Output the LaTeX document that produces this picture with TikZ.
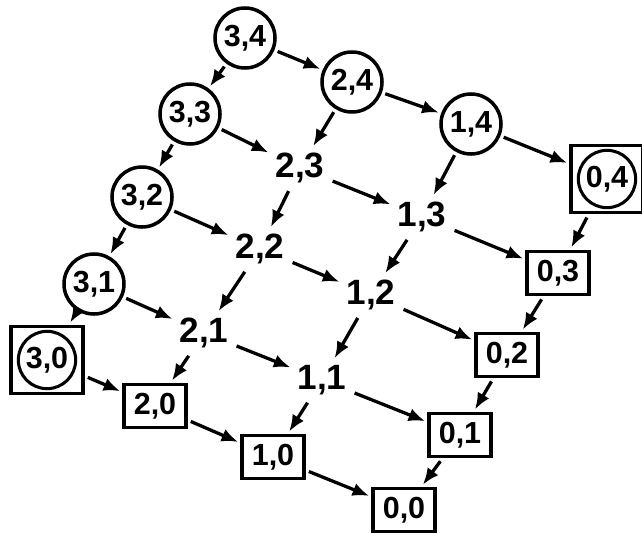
\documentclass[tikz,border=0pt]{standalone}
\usepackage{fontspec}
\setsansfont{Liberation Sans}
\usetikzlibrary{arrows.meta}

\tikzset{
  plainstate/.style={font=\sffamily\bfseries\fontsize{30}{34}\selectfont, inner sep=4pt},
  circstate/.style={font=\sffamily\bfseries\fontsize{26}{30}\selectfont, draw, circle, line width=3pt, minimum size=1.8cm, inner sep=0pt},
  boxstate/.style={font=\sffamily\bfseries\fontsize{26}{30}\selectfont, draw, rectangle, line width=3pt, minimum width=1.85cm, minimum height=1.3cm, inner sep=0pt},
  boxcircstate/.style={boxstate, minimum width=2.15cm, minimum height=2.02cm,
    path picture={\draw[line width=2.6pt] (path picture bounding box.center) circle (0.86cm);}},
  edge/.style={-{Latex[length=5mm,width=4mm]}, line width=2.8pt, shorten <=3pt, shorten >=2pt},
}

\begin{document}
\begin{tikzpicture}[x=0.03cm, y=-0.03cm]
          \useasboundingbox (0,0) rectangle (642,533);
          \node[circstate] (s34) at (245,38) {3,4};
          \node[circstate] (s24) at (352,82) {2,4};
          \node[circstate] (s14) at (471,124) {1,4};
          \node[boxcircstate] (s04) at (607,179) {0,4};
          \node[circstate] (s33) at (190,114) {3,3};
          \node[plainstate] (s23) at (300,168) {2,3};
          \node[plainstate] (s13) at (422,217) {1,3};
          \node[boxstate] (s03) at (558,273) {0,3};
          \node[circstate] (s32) at (142,197) {3,2};
          \node[plainstate] (s22) at (260,249) {2,2};
          \node[plainstate] (s12) at (371,295) {1,2};
          \node[boxstate] (s02) at (507,355) {0,2};
          \node[circstate] (s31) at (94,284) {3,1};
          \node[plainstate] (s21) at (204,333) {2,1};
          \node[plainstate] (s11) at (322,380) {1,1};
          \node[boxstate] (s01) at (460,435) {0,1};
          \node[boxcircstate] (s30) at (47,360) {3,0};
          \node[boxstate] (s20) at (155,406) {2,0};
          \node[boxstate] (s10) at (273,457) {1,0};
          \node[boxstate] (s00) at (404,510) {0,0};
          % right-down: (i,j) to (i-1,j)
          \foreach \j in {0,...,4}
            \foreach \i/\k in {3/2,2/1,1/0}
              \draw[edge] (s\i\j) -- (s\k\j);
          % left-down: (i,j) to (i,j-1)
          \foreach \i in {0,...,3}
            \foreach \j/\k in {4/3,3/2,2/1,1/0}
              \draw[edge] (s\i\j) -- (s\i\k);
        \end{tikzpicture}
\end{document}
